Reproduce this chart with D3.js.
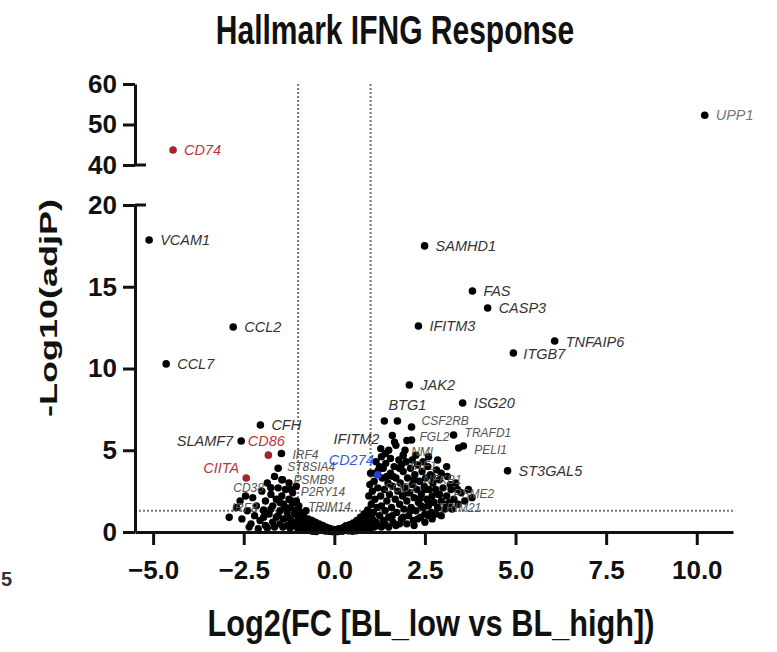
<!DOCTYPE html>
<meta charset="utf-8">
<script src="https://d3js.org/d3.v7.min.js"></script>
<style>
  body { margin: 0; background: #fff; }
  text { font-family: "Liberation Sans", Arial, sans-serif; }
</style>
<body>
<div id="chart"></div>
<script>

// ---- data ----
var xTicks = [-5, -2.5, 0, 2.5, 5, 7.5, 10];
var yTicksLow = [0, 5, 10, 15, 20];
var yTicksHigh = [40, 50, 60];
var fcCut = 1;        // |log2 FC| threshold lines
var pCut = 1.3;       // -log10(0.05)

// labelled genes
var geneNames = ["UPP1","CD74","VCAM1","SAMHD1","FAS","CASP3","IFITM3","CCL2","TNFAIP6","ITGB7",
                 "CCL7","JAK2","ISG20","BTG1","CFH","SLAMF7","CD86","IRF4","CIITA","CD38",
                 "ST8SIA4","IFITM2","CD274","ST3GAL5","CSF2RB","FGL2","TRAFD1","PELI1","NMI","IRF1",
                 "NFKB1","SOD2","PSME2","TRIM21","P2RY14","TRIM14","IRF8","PSMB9"];
var geneX = [10.22,-4.45,-5.11,2.49,3.81,4.23,2.32,-2.79,6.08,4.94,
             -4.64,2.07,3.54,1.74,-2.04,-2.57,-1.82,-1.46,-2.43,-1.75,
             -1.55,1.41,1.2,4.78,2.13,2.13,3.29,3.56,1.9,1.8,
             2.2,2.5,2.9,2.6,-1.2,-1.05,-1.95,-1.43];
var geneY = [52.3,43.7,17.86,17.5,14.74,13.7,12.6,12.54,11.68,10.95,
             10.28,8.99,7.89,6.79,6.54,5.57,4.7,4.8,3.3,2.7,
             3.9,4.8,3.5,3.75,6.42,5.63,5.93,5.26,4.7,3.9,
             3.2,2.6,2.3,1.8,2.6,1.9,1.35,3.2];
var downGenes = ["CD74","CD86","CIITA"];   // drawn red
var markerGenes = ["CD274"];               // drawn blue
var clusterGenes = ["CSF2RB","FGL2","TRAFD1","PELI1","NMI","IRF1","NFKB1","SOD2","PSME2","TRIM21",
                    "P2RY14","TRIM14","IRF8","PSMB9","ST8SIA4","CD38","IRF4"];

// unlabelled genes, by region
var leftPoints = [[-2.9,0.9],[-2.7,1.5],[-2.6,1.9],[-2.55,0.8],[-2.45,2.2],[-2.4,1.3],[-2.35,0.3],[-2.3,0.5],
  [-2.25,2.1],[-2.2,1.0],[-2.15,1.6],[-2.1,0.2],[-2.05,0.7],[-2.0,2.5],[-1.95,1.3],[-1.95,0.9],[-1.9,0.4],
  [-1.9,1.9],[-1.85,3.0],[-1.85,0.25],[-1.8,1.1],[-1.75,2.3],[-1.75,1.4],[-1.7,0.6],[-1.7,1.6],[-1.65,3.4],
  [-1.65,0.3],[-1.6,2.0],[-1.6,0.9],[-1.55,2.7],[-1.55,1.0],[-1.5,1.3],[-1.5,0.5],[-1.5,1.8],[-1.45,2.2],
  [-1.45,3.2],[-1.42,0.3],[-1.4,1.7],[-1.4,0.8],[-1.35,2.6],[-1.35,1.5],[-1.3,1.2],[-1.3,0.4],[-1.28,0.9],
  [-1.25,2.0],[-1.25,3.0],[-1.22,0.25],[-1.2,1.5],[-1.2,0.7],[-1.18,1.9],[-1.15,2.4],[-1.12,0.4],
  [-1.1,1.1],[-1.1,1.8],[-1.08,1.3],[-1.05,0.6],[-1.05,2.8],[-1.02,0.3],[-1.0,1.4],[-1.0,0.9]];
var centerPoints = [[-1.0,0.15],[-0.98,1.6],[-0.95,0.9],[-0.95,0.35],[-0.92,1.2],[-0.9,0.2],[-0.88,0.5],
  [-0.85,1.0],[-0.82,0.7],[-0.8,0.1],[-0.78,1.3],[-0.75,0.4],[-0.72,0.8],[-0.7,0.15],[-0.68,0.55],
  [-0.65,0.3],[-0.62,0.7],[-0.6,0.05],[-0.58,0.45],[-0.55,0.2],[-0.52,0.6],[-0.5,0.03],[-0.48,0.35],
  [-0.45,0.15],[-0.42,0.5],[-0.38,0.25],[-0.35,0.1],[-0.32,0.4],[-0.28,0.18],[-0.25,0.06],[-0.22,0.3],
  [-0.18,0.12],[-0.15,0.04],[-0.12,0.22],[-0.08,0.08],[-0.05,0.02],[-0.02,0.15],[0.02,0.05],[0.05,0.12],
  [0.08,0.02],[0.12,0.2],[0.15,0.07],[0.18,0.15],[0.22,0.04],[0.25,0.28],[0.28,0.12],[0.32,0.38],
  [0.35,0.2],[0.38,0.08],[0.42,0.45],[0.45,0.28],[0.48,0.14],[0.5,0.05],[0.52,0.55],[0.55,0.35],
  [0.58,0.2],[0.6,0.08],[0.62,0.7],[0.65,0.45],[0.68,0.28],[0.7,0.12],[0.72,0.9],[0.75,0.6],[0.78,0.35],
  [0.8,0.18],[0.82,1.1],[0.85,0.75],[0.88,0.45],[0.9,0.2],[0.92,1.35],[0.95,0.95],[0.95,0.35],
  [0.98,0.6],[1.0,0.25]];
var rightPoints = [[1.02,1.7],[1.05,2.5],[1.05,0.8],[1.08,1.2],[1.1,3.1],[1.1,0.3],[1.12,2.0],[1.12,3.6],
  [1.15,0.6],[1.18,1.5],[1.2,2.7],[1.2,0.4],[1.22,3.8],[1.25,1.0],[1.28,2.2],[1.28,5.1],[1.3,1.6],
  [1.3,0.3],[1.32,3.3],[1.35,0.7],[1.35,3.9],[1.38,2.6],[1.4,1.3],[1.4,0.5],[1.42,4.2],[1.45,1.9],
  [1.45,3.4],[1.48,3.0],[1.5,0.9],[1.5,0.3],[1.52,2.3],[1.55,3.6],[1.58,1.5],[1.6,2.8],[1.6,1.0],
  [1.6,5.9],[1.62,0.6],[1.62,3.4],[1.65,4.0],[1.68,2.0],[1.7,3.3],[1.7,0.4],[1.72,1.2],[1.75,2.5],
  [1.78,4.4],[1.8,1.7],[1.8,0.5],[1.82,3.0],[1.85,0.8],[1.85,4.1],[1.88,2.2],[1.9,3.7],[1.9,0.9],
  [1.92,1.4],[1.95,2.7],[1.98,4.3],[2.0,1.9],[2.0,0.5],[2.0,2.4],[2.0,5.6],[2.02,3.3],[2.05,1.0],
  [2.08,2.4],[2.1,3.9],[2.1,1.3],[2.12,1.5],[2.15,2.9],[2.15,4.4],[2.18,0.7],[2.2,2.1],[2.2,0.4],
  [2.22,3.5],[2.25,1.3],[2.28,2.6],[2.3,4.1],[2.3,0.8],[2.32,1.8],[2.35,3.1],[2.35,2.0],[2.38,0.9],
  [2.4,2.3],[2.4,1.6],[2.42,3.7],[2.45,1.5],[2.45,4.3],[2.48,2.8],[2.5,1.1],[2.5,0.6],[2.52,3.3],
  [2.55,2.0],[2.58,4.0],[2.6,1.6],[2.6,1.0],[2.62,2.6],[2.65,3.5],[2.68,1.2],[2.7,2.2],[2.7,0.8],
  [2.7,3.4],[2.72,3.0],[2.75,1.8],[2.8,2.6],[2.8,1.1],[2.82,3.8],[2.85,1.5],[2.88,2.3],[2.9,3.2],
  [2.95,1.9],[2.95,1.0],[2.95,3.6],[3.0,2.7],[3.05,1.4],[3.1,2.2],[3.1,1.7],[3.12,3.4],[3.18,1.8],
  [3.2,2.9],[3.22,2.6],[3.25,1.4],[3.3,2.0],[3.35,3.0],[3.4,2.6],[3.42,1.7],[3.5,2.4],[3.6,1.9],
  [3.7,2.6],[3.8,2.1],[1.3,4.6],[1.5,5.0],[1.55,4.5],[1.7,5.3],[1.95,5.0],[2.25,4.7],[2.6,4.6],
  [2.85,4.4],[3.1,4.0],[0.95,2.2],[0.98,2.9],[1.0,3.6],[1.15,4.3],[1.25,4.0],[1.38,6.79],[1.66,5.5],
  [3.43,5.14]];

// ---- layout ----
var W = 777, H = 652;
var svg = d3.select("#chart").append("svg")
    .attr("width", W)
    .attr("height", H);

var x = d3.scaleLinear().domain([-5.5, 11]).range([135, 733]);
var yLow = d3.scaleLinear().domain([0, 20]).range([532, 205]);
var yHigh = d3.scaleLinear().domain([40, 60]).range([165, 84]);
function yPos(v) { return v >= 30 ? yHigh(v) : yLow(v); }

// threshold lines
var dashed = svg.append("g")
    .attr("stroke", "#777")
    .attr("stroke-width", 2)
    .attr("stroke-dasharray", "2,2");
[-fcCut, fcCut].forEach(function(v) {
  dashed.append("line")
    .attr("x1", x(v)).attr("x2", x(v))
    .attr("y1", yHigh(60)).attr("y2", yLow(0));
});
dashed.append("line")
  .attr("x1", x(-5.5)).attr("x2", x(11))
  .attr("y1", yLow(pCut)).attr("y2", yLow(pCut));

// background genes
var bg = leftPoints.concat(centerPoints, rightPoints);
svg.append("g")
  .selectAll("circle")
  .data(bg)
  .enter()
  .append("circle")
    .attr("cx", function(d) { return x(d[0]); })
    .attr("cy", function(d) { return yPos(d[1]); })
    .attr("r", 3.7)
    .style("fill", "#000");

// labelled genes
var genes = geneNames.map(function(n, i) { return {name: n, x: geneX[i], y: geneY[i]}; });
function geneColor(n) {
  if (downGenes.indexOf(n) >= 0) return "#a3262a";
  if (markerGenes.indexOf(n) >= 0) return "#2340d8";
  return "#000";
}
function textColor(n) {
  if (downGenes.indexOf(n) >= 0) return "#b8343a";
  if (markerGenes.indexOf(n) >= 0) return "#3a55e0";
  if (n === "UPP1") return "#777";
  if (clusterGenes.indexOf(n) >= 0) return "#555";
  return "#333";
}
// label placement: [dx, dy, anchor]
var labelPlace = {
  "SLAMF7": [-8, 5, "end"], "CIITA": [-7, -5, "end"], "CD38": [-7, 4, "end"],
  "CD86": [-2, -9, "middle"], "BTG1": [-9, -11, "start"], "IFITM2": [-6, -10, "end"],
  "CD274": [-4, -10, "end"], "IRF8": [-6, 2, "end"], "TNFAIP6": [11, 6, "start"],
  "ITGB7": [10, 6, "start"], "FGL2": [8, 1, "start"], "CSF2RB": [10, -2, "start"],
  "NMI": [8, 1, "start"], "IRF1": [11, 2, "start"], "NFKB1": [9, 4, "start"], "SOD2": [-8, 3, "end"],
  "PSME2": [14, 4, "start"], "TRIM21": [10, 9, "start"], "P2RY14": [10, 7, "start"],
  "TRIM14": [12, 10, "start"], "PSMB9": [11, 4, "start"], "TRAFD1": [11, 2, "start"],
  "PELI1": [11, 8, "start"], "ST8SIA4": [9, 3, "start"]
};

svg.append("g")
  .selectAll("circle")
  .data(genes)
  .enter()
  .append("circle")
    .attr("cx", function(d) { return x(d.x); })
    .attr("cy", function(d) { return yPos(d.y); })
    .attr("r", 3.8)
    .style("fill", function(d) { return geneColor(d.name); });

svg.append("g")
  .selectAll("text")
  .data(genes)
  .enter()
  .append("text")
    .attr("x", function(d) { var p = labelPlace[d.name]; return x(d.x) + (p ? p[0] : 11); })
    .attr("y", function(d) { var p = labelPlace[d.name]; return yPos(d.y) + (p ? p[1] : 5); })
    .attr("text-anchor", function(d) { var p = labelPlace[d.name]; return p ? p[2] : "start"; })
    .style("font-size", function(d) { return clusterGenes.indexOf(d.name) >= 0 ? "12px" : "14.5px"; })
    .style("font-style", "italic")
    .style("fill", function(d) { return textColor(d.name); })
    .text(function(d) { return d.name; });

// axes
function styleAxis(g) {
  g.selectAll("path, line").attr("stroke", "#111").attr("stroke-width", 3);
  g.selectAll("text")
    .style("font-size", "26px")
    .style("font-weight", "bold")
    .style("fill", "#111");
}

svg.append("g")
    .attr("transform", "translate(0," + yLow(0) + ")")
    .call(d3.axisBottom(x).tickValues(xTicks).tickFormat(d3.format(".1f"))
      .tickSize(13).tickSizeOuter(0).tickPadding(16))
    .call(styleAxis);

svg.append("g")
    .attr("transform", "translate(" + x(-5.5) + ",0)")
    .call(d3.axisLeft(yLow).tickValues(yTicksLow).tickSize(12).tickSizeOuter(0).tickPadding(6))
    .call(styleAxis);

svg.append("g")
    .attr("transform", "translate(" + x(-5.5) + ",0)")
    .call(d3.axisLeft(yHigh).tickValues(yTicksHigh).tickSize(12).tickSizeOuter(0).tickPadding(6))
    .call(styleAxis);

// break marks: ticks at 20 and 40 also stick out to the right
[yLow(20), yHigh(40)].forEach(function(yy) {
  svg.append("line")
    .attr("x1", x(-5.5)).attr("x2", x(-5.5) + 11)
    .attr("y1", yy).attr("y2", yy)
    .attr("stroke", "#111").attr("stroke-width", 3);
});

// titles
svg.append("text")
    .attr("transform", "translate(395,44) scale(0.75,1)")
    .attr("text-anchor", "middle")
    .style("font-size", "40px")
    .style("font-weight", "bold")
    .style("fill", "#111")
    .text("Hallmark IFNG Response");

svg.append("text")
    .attr("transform", "translate(57,308) scale(0.66,1) rotate(-90)")
    .attr("text-anchor", "middle")
    .style("font-size", "36px")
    .style("font-weight", "bold")
    .style("fill", "#111")
    .text("-Log10(adjP)");

svg.append("text")
    .attr("transform", "translate(431,636) scale(0.83,1)")
    .attr("text-anchor", "middle")
    .style("font-size", "37px")
    .style("font-weight", "bold")
    .style("fill", "#111")
    .text("Log2(FC [BL_low vs BL_high])");

// glyph at the left edge of the crop
svg.append("text")
    .attr("x", 1).attr("y", 586)
    .style("font-size", "20px")
    .style("font-weight", "bold")
    .style("fill", "#333")
    .text("5");

</script>
</body>
